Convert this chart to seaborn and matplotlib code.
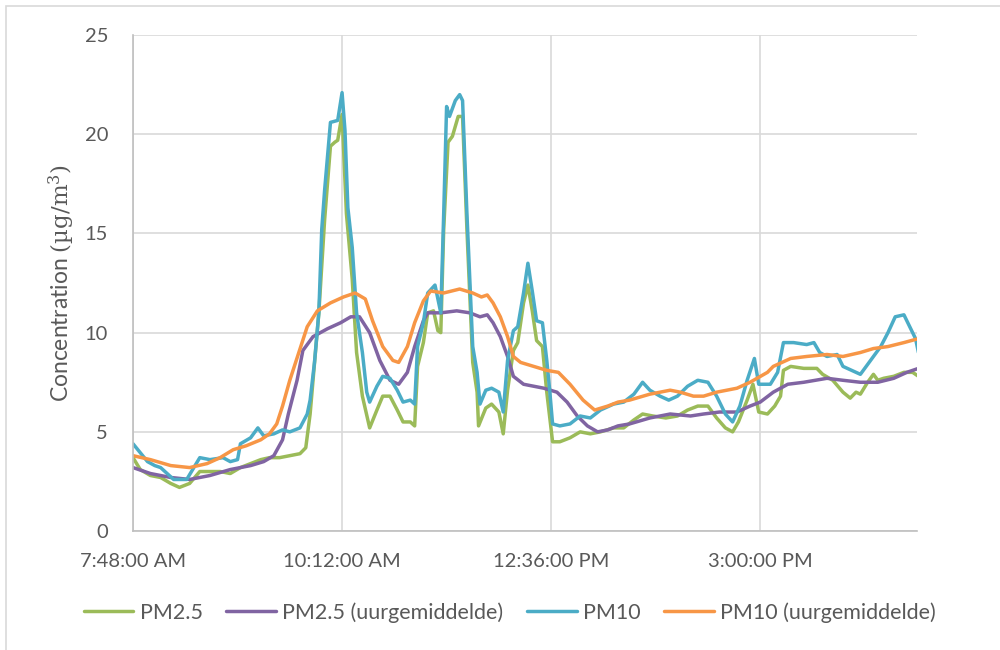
import matplotlib
matplotlib.use("Agg")
import matplotlib.pyplot as plt
import matplotlib.dates as mdates
from matplotlib.patches import Rectangle
import seaborn as sns
import pandas as pd

# minutes after 7:48 AM and concentrations
t_pm25 = [0, 5, 12, 19, 26, 32, 39, 46, 53, 60, 67, 74, 81, 88, 94, 101, 108, 115, 119, 122,
          124, 128, 132, 136, 139, 141, 144, 147, 151, 154, 158, 163, 168, 172, 177, 182, 186,
          191, 194, 196, 200, 203, 207, 210, 212, 214, 217, 220, 224, 227, 230, 234, 237, 238,
          243, 247, 252, 255, 258, 262, 265, 269, 272, 275, 278, 282, 285, 289, 294, 301, 308,
          315, 322, 331, 338, 345, 351, 358, 367, 375, 382, 389, 396, 402, 408, 413, 417, 423,
          427, 431, 437, 442, 446, 448, 453, 462, 471, 475, 482, 489, 494, 498, 501, 506, 510,
          513, 517, 524, 531, 537, 541]
pm25 = [3.7, 3.1, 2.8, 2.7, 2.4, 2.2, 2.4, 3.0, 3.0, 3.0, 2.9, 3.2, 3.4, 3.6, 3.7, 3.7, 3.8, 3.9, 4.2, 5.9,
        7.6, 11.0, 15.7, 19.4, 19.6, 19.7, 21.0, 16.0, 12.7, 9.0, 6.8, 5.2, 6.1, 6.8, 6.8, 6.1, 5.5,
        5.5, 5.3, 8.3, 9.5, 11.0, 11.1, 10.1, 10.0, 15.2, 19.6, 19.9, 20.9, 20.9, 15.2, 8.5, 7.0, 5.3,
        6.2, 6.4, 6.0, 4.9, 7.1, 9.1, 9.5, 11.5, 12.4, 11.1, 9.6, 9.3, 7.0, 4.5, 4.5, 4.7, 5.0,
        4.9, 5.0, 5.2, 5.2, 5.6, 5.9, 5.8, 5.7, 5.8, 6.1, 6.3, 6.3, 5.7, 5.2, 5.0, 5.5, 6.6,
        7.4, 6.0, 5.9, 6.3, 6.8, 8.1, 8.3, 8.2, 8.2, 7.9, 7.6, 7.0, 6.7, 7.0, 6.9, 7.5, 7.9,
        7.6, 7.7, 7.8, 8.0, 8.0, 7.8]

t_pm25_hour = [0, 12, 26, 39, 53, 67, 81, 90, 97, 103, 107, 113, 117, 124, 134, 143, 150, 156, 163,
               170, 177, 183, 189, 194, 200, 203, 212, 223, 232, 239, 244, 248, 253, 258, 262, 269,
               276, 283, 292, 299, 306, 313, 320, 327, 334, 342, 356, 370, 384, 393, 404, 416, 425,
               432, 441, 451, 462, 478, 489, 501, 513, 524, 533, 541]
pm25_hour = [3.2, 2.9, 2.7, 2.6, 2.8, 3.1, 3.3, 3.5, 3.8, 4.6, 5.9, 7.6, 9.1, 9.8, 10.2, 10.5, 10.8, 10.8, 10.0,
             8.6, 7.6, 7.4, 8.0, 9.3, 10.6, 11.0, 11.0, 11.1, 11.0, 10.8, 10.9, 10.5, 9.8, 8.8, 7.8, 7.4,
             7.3, 7.2, 7.0, 6.5, 5.8, 5.3, 5.0, 5.1, 5.3, 5.4, 5.7, 5.9, 5.8, 5.9, 6.0, 6.0, 6.3,
             6.5, 7.0, 7.4, 7.5, 7.7, 7.6, 7.5, 7.5, 7.7, 8.0, 8.2]

t_pm10 = [0, 10, 15, 19, 28, 37, 46, 53, 62, 67, 72, 74, 81, 86, 90, 97, 103, 108, 115, 120,
          122, 125, 128, 130, 132, 136, 141, 144, 146, 148, 151, 154, 158, 161, 163, 168, 172,
          177, 182, 186, 191, 194, 196, 200, 203, 208, 212, 214, 216, 218, 222, 225, 227, 230,
          234, 237, 239, 243, 247, 252, 255, 258, 262, 265, 269, 272, 275, 278, 282, 285, 287,
          289, 294, 301, 308, 315, 322, 331, 338, 345, 351, 356, 363, 369, 375, 382, 389, 396,
          402, 408, 413, 418, 423, 428, 431, 439, 444, 448, 455, 464, 469, 473, 478, 485, 489,
          495, 501, 508, 515, 520, 525, 531, 535, 539, 541]
pm10 = [4.4, 3.5, 3.3, 3.2, 2.6, 2.6, 3.7, 3.6, 3.7, 3.5, 3.6, 4.4, 4.7, 5.2, 4.8, 4.9, 5.1, 5.0, 5.2, 5.9,
        6.6, 8.5, 11.0, 15.2, 17.2, 20.6, 20.7, 22.1, 20.2, 16.3, 14.3, 11.0, 9.0, 7.0, 6.5, 7.3, 7.8,
        7.7, 7.1, 6.5, 6.6, 6.4, 9.3, 10.5, 12.0, 12.4, 11.0, 16.0, 21.4, 20.9, 21.7, 22.0, 21.7, 16.0,
        9.3, 8.0, 6.4, 7.1, 7.2, 7.0, 6.0, 8.6, 10.1, 10.3, 12.0, 13.5, 12.1, 10.6, 10.5, 8.6, 7.1,
        5.4, 5.3, 5.4, 5.8, 5.7, 6.1, 6.4, 6.5, 6.9, 7.5, 7.1, 6.8, 6.6, 6.8, 7.3, 7.6, 7.5,
        6.8, 5.9, 5.5, 6.3, 7.6, 8.7, 7.4, 7.4, 8.0, 9.5, 9.5, 9.4, 9.5, 9.0, 8.8, 8.9, 8.3,
        8.1, 7.9, 8.6, 9.3, 10.0, 10.8, 10.9, 10.3, 9.7, 9.0]

t_pm10_hour = [0, 12, 26, 39, 51, 60, 69, 78, 88, 94, 99, 103, 108, 112, 120, 127, 136, 145, 153,
               160, 165, 172, 179, 183, 189, 194, 200, 205, 214, 225, 234, 240, 244, 248, 253, 258,
               262, 267, 276, 285, 293, 301, 310, 318, 327, 334, 342, 356, 370, 377, 386, 393, 402,
               416, 425, 437, 441, 453, 464, 478, 489, 501, 510, 520, 531, 541]
pm10_hour = [3.8, 3.6, 3.3, 3.2, 3.4, 3.7, 4.1, 4.3, 4.6, 4.9, 5.4, 6.3, 7.6, 8.5, 10.3, 11.1, 11.5, 11.8, 12.0,
             11.7, 10.6, 9.3, 8.6, 8.5, 9.3, 10.5, 11.6, 12.1, 12.0, 12.2, 12.0, 11.8, 11.9, 11.5, 10.8, 9.8,
             8.8, 8.5, 8.3, 8.1, 8.0, 7.4, 6.6, 6.1, 6.3, 6.5, 6.6, 6.9, 7.1, 7.0, 6.8, 6.8, 7.0,
             7.2, 7.5, 8.0, 8.3, 8.7, 8.8, 8.9, 8.8, 9.0, 9.2, 9.3, 9.5, 9.7]

series = [
    ("PM2.5", t_pm25, pm25, "#9BBB59"),
    ("PM2.5 (uurgemiddelde)", t_pm25_hour, pm25_hour, "#8064A2"),
    ("PM10", t_pm10, pm10, "#4BACC6"),
    ("PM10 (uurgemiddelde)", t_pm10_hour, pm10_hour, "#F79646"),
]

start = pd.Timestamp("2020-01-01 07:48")

sns.set_style("white")
plt.rcParams["font.family"] = ["Lato", "DejaVu Sans"]
plt.rcParams["mathtext.fontset"] = "dejavuserif"

fig = plt.figure(figsize=(10, 6.5), dpi=100)
ax = fig.add_axes([0.133, 0.183, 0.784, 0.763])

for name, t, v, col in series:
    df = pd.DataFrame({"tijd": start + pd.to_timedelta(t, unit="min"), "waarde": v})
    sns.lineplot(data=df, x="tijd", y="waarde", ax=ax, color=col, lw=2.5,
                 label=name, estimator=None, sort=False)

ax.set_xlim(start, start + pd.Timedelta(minutes=540))
ax.set_ylim(0, 25)
ax.set_yticks(range(0, 26, 5))
ax.set_xticks([start + pd.Timedelta(minutes=144 * i) for i in range(4)])
ax.xaxis.set_major_formatter(mdates.DateFormatter("%-I:%M:%S %p"))

ax.grid(True, color="#d9d9d9", lw=1.2)
ax.set_axisbelow(True)
for s in ["top", "right"]:
    ax.spines[s].set_visible(False)
for s in ["left", "bottom"]:
    ax.spines[s].set_color("#bfbfbf")
    ax.spines[s].set_linewidth(1.2)
ax.tick_params(length=0, labelsize=14.5, labelcolor="#595959")
ax.tick_params(axis="y", pad=18)
ax.tick_params(axis="x", pad=16)

ax.set_xlabel("")
ax.set_ylabel("Concentration " + r"$(\mathrm{µg/m^3})$", fontsize=16.5, color="#595959")
ax.yaxis.set_label_coords(-0.072, 0.5)

handles, labels = ax.get_legend_handles_labels()
ax.get_legend().remove()
fig.legend(handles, labels, loc="center", bbox_to_anchor=(0.51, 0.058), ncol=4, frameon=False,
           fontsize=15.5, labelcolor="#595959", handlelength=2.3, handletextpad=0.3,
           columnspacing=1.1)

fig.patches.append(Rectangle((0.006, -0.1), 1.2, 1.091, transform=fig.transFigure,
                             fill=False, edgecolor="#d9d9d9", lw=1.2))

fig.savefig("out.png", dpi=100, facecolor="white")
